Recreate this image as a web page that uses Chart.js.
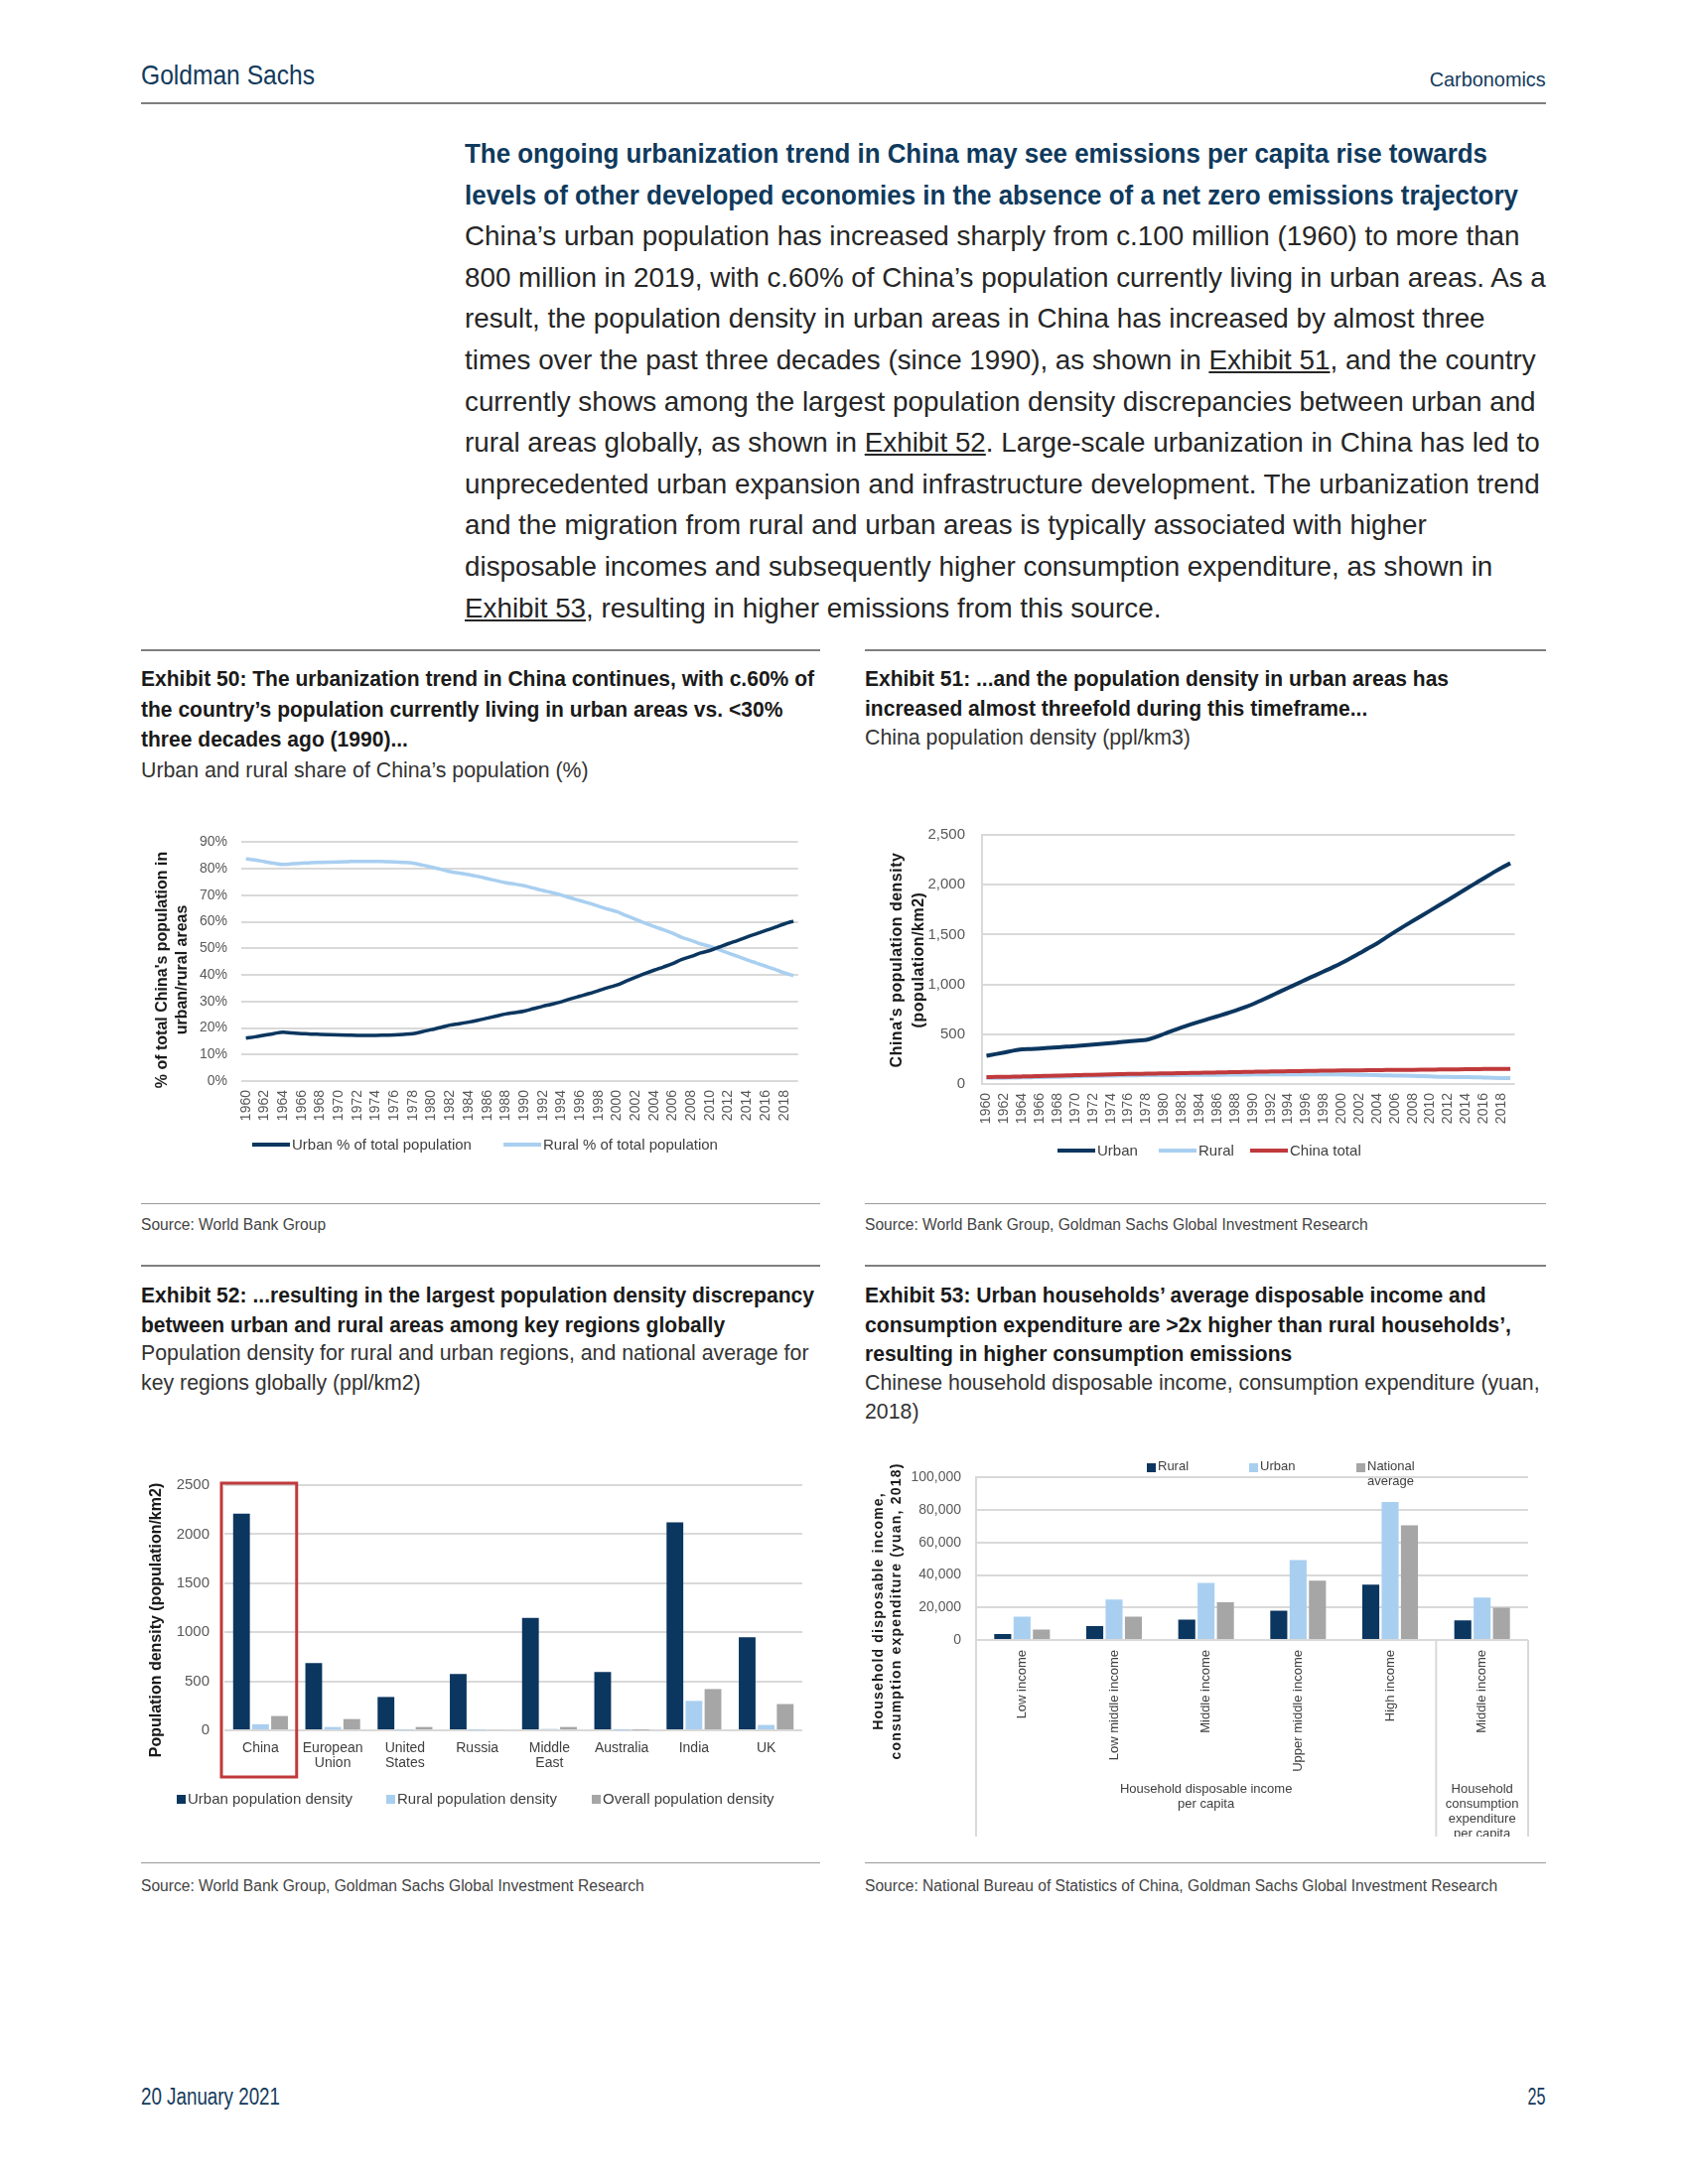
<!DOCTYPE html>
<html>
<head>
<meta charset="utf-8">
<script src="https://cdn.jsdelivr.net/npm/chart.js@4.4.1/dist/chart.umd.min.js"></script>
<style>
  html, body { margin: 0; padding: 0; background: #fff; }
  body { width: 1700px; height: 2200px; position: relative; overflow: hidden;
         font-family: "Liberation Sans", Arial, sans-serif; color: #262626; }
  .abs { position: absolute; white-space: nowrap; }
  .sq { display: inline-block; transform-origin: 0 50%; white-space: nowrap; }
  .sqr { transform-origin: 100% 50%; }
  .rule { position: absolute; height: 2px; background: #7f7f7f; }
  .thin { position: absolute; height: 1px; background: #9a9a9a; }
  .navy { color: #133a5c; }
  .lead { font-weight: bold; color: #0f3a5d; font-size: 28px; }
  .body { font-size: 27.8px; color: #262626; }
  .exh { font-weight: bold; font-size: 22px; color: #1a1a1a; }
  .sub { font-size: 21.3px; color: #333; }
  .src { font-size: 15.6px; color: #444; }
  canvas { position: absolute; }
  .lg { position: absolute; color: #404040; white-space: nowrap; }
  .lg .mk { position: absolute; }
  .lg .tx { position: absolute; white-space: normal; }
</style>
</head>
<body>

<!-- ページ上部のヘッダー -->
<div class="abs navy" style="left:142px; top:58px; font-size:28px; line-height:36px;"><span class="sq" data-w="175" data-g="gs">Goldman Sachs</span></div>
<div class="abs navy" style="right:143px; top:66px; font-size:21px; line-height:28px;"><span class="sq sqr" data-w="117" data-g="cb">Carbonomics</span></div>
<div class="rule" style="left:142px; top:103px; width:1415px;"></div>

<!-- 本文ブロック -->
<div class="abs" style="left:468px; top:134px; line-height:41.6px;">
  <div class="lead"><span class="sq" data-w="1030" data-g="lead">The ongoing urbanization trend in China may see emissions per capita rise towards</span></div>
  <div class="lead"><span class="sq" data-w="1061" data-g="lead">levels of other developed economies in the absence of a net zero emissions trajectory</span></div>
  <div class="body">China’s urban population has increased sharply from c.100 million (1960) to more than</div>
  <div class="body">800 million in 2019, with c.60% of China’s population currently living in urban areas. As a</div>
  <div class="body">result, the population density in urban areas in China has increased by almost three</div>
  <div class="body">times over the past three decades (since 1990), as shown in <u>Exhibit 51</u>, and the country</div>
  <div class="body">currently shows among the largest population density discrepancies between urban and</div>
  <div class="body">rural areas globally, as shown in <u>Exhibit 52</u>. Large-scale urbanization in China has led to</div>
  <div class="body">unprecedented urban expansion and infrastructure development. The urbanization trend</div>
  <div class="body">and the migration from rural and urban areas is typically associated with higher</div>
  <div class="body">disposable incomes and subsequently higher consumption expenditure, as shown in</div>
  <div class="body"><u>Exhibit 53</u>, resulting in higher emissions from this source.</div>
</div>

<!-- Exhibit 50 / 51 の見出し -->
<div class="rule" style="left:142px; top:654px; width:684px;"></div>
<div class="rule" style="left:871px; top:654px; width:686px;"></div>
<div class="abs" style="left:142px; top:669px; line-height:30.5px;">
  <div class="exh"><span class="sq" data-w="678" data-g="exh">Exhibit 50: The urbanization trend in China continues, with c.60% of</span></div>
  <div class="exh"><span class="sq" data-g="exh">the country’s population currently living in urban areas vs. &lt;30%</span></div>
  <div class="exh"><span class="sq" data-g="exh">three decades ago (1990)...</span></div>
  <div class="sub">Urban and rural share of China’s population (%)</div>
</div>
<div class="abs" style="left:871px; top:669px; line-height:30px;">
  <div class="exh"><span class="sq" data-w="588" data-g="exh">Exhibit 51: ...and the population density in urban areas has</span></div>
  <div class="exh"><span class="sq" data-g="exh">increased almost threefold during this timeframe...</span></div>
  <div class="sub" style="line-height:28px;">China population density (ppl/km3)</div>
</div>

<canvas id="c50" width="675" height="344" style="left:150px; top:826px;"></canvas>
<canvas id="c51" width="659" height="361" style="left:888px; top:815px;"></canvas>

<div class="thin" style="left:142px; top:1212px; width:684px;"></div>
<div class="thin" style="left:871px; top:1212px; width:686px;"></div>
<div class="abs src" style="left:142px; top:1224px; line-height:20px;">Source: World Bank Group</div>
<div class="abs src" style="left:871px; top:1224px; line-height:20px;">Source: World Bank Group, Goldman Sachs Global Investment Research</div>

<!-- Exhibit 52 / 53 の見出し -->
<div class="rule" style="left:142px; top:1274px; width:684px;"></div>
<div class="rule" style="left:871px; top:1274px; width:686px;"></div>
<div class="abs" style="left:142px; top:1290px; line-height:29.5px;">
  <div class="exh"><span class="sq" data-w="678" data-g="exh">Exhibit 52: ...resulting in the largest population density discrepancy</span></div>
  <div class="exh"><span class="sq" data-g="exh">between urban and rural areas among key regions globally</span></div>
  <div class="sub">Population density for rural and urban regions, and national average for</div>
  <div class="sub">key regions globally (ppl/km2)</div>
</div>
<div class="abs" style="left:871px; top:1290px; line-height:29.5px;">
  <div class="exh"><span class="sq" data-g="exh">Exhibit 53: Urban households’ average disposable income and</span></div>
  <div class="exh"><span class="sq" data-w="651" data-g="exh">consumption expenditure are &gt;2x higher than rural households’,</span></div>
  <div class="exh"><span class="sq" data-g="exh">resulting in higher consumption emissions</span></div>
  <div class="sub">Chinese household disposable income, consumption expenditure (yuan,</div>
  <div class="sub">2018)</div>
</div>

<canvas id="c52" width="676" height="357" style="left:144px; top:1472px;"></canvas>
<canvas id="c53" width="679" height="385" style="left:872px; top:1465px;"></canvas>
<div id="legends"></div>

<div class="thin" style="left:142px; top:1876px; width:684px;"></div>
<div class="thin" style="left:871px; top:1876px; width:686px;"></div>
<div class="abs src" style="left:142px; top:1890px; line-height:20px;">Source: World Bank Group, Goldman Sachs Global Investment Research</div>
<div class="abs src" style="left:871px; top:1890px; line-height:20px;">Source: National Bureau of Statistics of China, Goldman Sachs Global Investment Research</div>

<!-- フッター -->
<div class="abs navy" style="left:142px; top:2098px; font-size:23px; line-height:28px;"><span class="sq" data-w="140" data-g="ft">20 January 2021</span></div>
<div class="abs navy" style="right:143px; top:2098px; font-size:23px; line-height:28px;"><span class="sq sqr" data-w="18" data-g="pg">25</span></div>

<script>
// 細字体（コンデンス）の代わりに横方向へ圧縮する
const groupScale = {};
document.querySelectorAll('.sq[data-w]').forEach(el => {
  const s = Number(el.dataset.w) / el.getBoundingClientRect().width;
  el.style.transform = 'scaleX(' + s + ')';
  if (!groupScale[el.dataset.g]) groupScale[el.dataset.g] = s;
});
document.querySelectorAll('.sq:not([data-w])').forEach(el => {
  el.style.transform = 'scaleX(' + groupScale[el.dataset.g] + ')';
});

// 年次カテゴリ（1960〜2019）
const years = [1960, 1961, 1962, 1963, 1964, 1965, 1966, 1967, 1968, 1969,
               1970, 1971, 1972, 1973, 1974, 1975, 1976, 1977, 1978, 1979,
               1980, 1981, 1982, 1983, 1984, 1985, 1986, 1987, 1988, 1989,
               1990, 1991, 1992, 1993, 1994, 1995, 1996, 1997, 1998, 1999,
               2000, 2001, 2002, 2003, 2004, 2005, 2006, 2007, 2008, 2009,
               2010, 2011, 2012, 2013, 2014, 2015, 2016, 2017, 2018, 2019];

// Exhibit 50: 都市・農村人口の比率（%）
const shareSeries = ['Urban % of total population', 'Rural % of total population'];
const urbanShare = [16.2, 16.7, 17.3, 17.9, 18.4, 18.1, 17.9, 17.7, 17.6, 17.5,
                    17.4, 17.3, 17.2, 17.2, 17.2, 17.3, 17.4, 17.6, 17.9, 18.6,
                    19.4, 20.2, 21.1, 21.6, 22.2, 22.9, 23.7, 24.5, 25.3, 25.8,
                    26.4, 27.3, 28.2, 29.0, 29.9, 31.0, 32.0, 33.0, 34.1, 35.2,
                    36.2, 37.7, 39.1, 40.5, 41.8, 43.0, 44.3, 45.9, 47.0, 48.3,
                    49.2, 50.5, 51.8, 53.0, 54.3, 55.5, 56.7, 57.9, 59.2, 60.3];
const ruralShare = [83.8, 83.3, 82.7, 82.1, 81.6, 81.9, 82.1, 82.3, 82.4, 82.5,
                    82.6, 82.7, 82.8, 82.8, 82.8, 82.7, 82.6, 82.4, 82.1, 81.4,
                    80.6, 79.8, 78.9, 78.4, 77.8, 77.1, 76.3, 75.5, 74.7, 74.2,
                    73.6, 72.7, 71.8, 71.0, 70.1, 69.0, 68.0, 67.0, 65.9, 64.8,
                    63.8, 62.3, 60.9, 59.5, 58.2, 57.0, 55.7, 54.1, 53.0, 51.7,
                    50.8, 49.5, 48.2, 47.0, 45.7, 44.5, 43.3, 42.1, 40.8, 39.7];

// Exhibit 51: 人口密度
const densitySeries = ['Urban', 'Rural', 'China total'];
const urbanDensity = [284, 300, 317, 335, 348, 352, 357, 363, 369, 375,
                      381, 388, 395, 403, 411, 420, 429, 436, 443, 470,
                      503, 537, 569, 598, 626, 653, 680, 707, 736, 768,
                      802, 842, 883, 925, 966, 1007, 1049, 1090, 1131, 1172,
                      1215, 1263, 1312, 1361, 1412, 1470, 1527, 1582, 1636, 1689,
                      1742, 1795, 1848, 1902, 1957, 2011, 2065, 2118, 2170, 2215];
const ruralDensity = [62, 62, 63, 65, 66, 68, 70, 71, 73, 75,
                      77, 79, 81, 83, 84, 86, 87, 88, 89, 89,
                      90, 90, 91, 91, 92, 92, 93, 94, 95, 95,
                      96, 96, 97, 97, 97, 98, 98, 98, 98, 97,
                      97, 95, 93, 91, 89, 87, 85, 84, 82, 79,
                      76, 73, 71, 70, 69, 68, 65, 62, 60, 59];
const totalDensity = [70, 71, 72, 74, 76, 78, 80, 82, 84, 86,
                      89, 91, 93, 95, 97, 99, 101, 102, 104, 105,
                      107, 108, 110, 111, 113, 114, 116, 118, 120, 121,
                      123, 125, 126, 127, 129, 130, 131, 133, 134, 135,
                      136, 137, 138, 139, 140, 141, 142, 142, 143, 144,
                      145, 146, 147, 148, 149, 150, 151, 152, 152, 153];

// Exhibit 52: 地域別の人口密度
const regions = ['China', ['European', 'Union'], ['United', 'States'], 'Russia',
                 ['Middle', 'East'], 'Australia', 'India', 'UK'];
const regionSeries = ['Urban population density', 'Rural population density', 'Overall population density'];
const regionUrban = [2210, 685, 340, 575, 1145, 595, 2120, 950];
const regionRural = [62, 34, 4, 3, 14, 1, 300, 55];
const regionOverall = [146, 115, 34, 9, 34, 3, 421, 268];

// Exhibit 53: 家計の可処分所得・消費支出（元, 2018）
const incomeCats = ['Low income', 'Low middle income', 'Middle income',
                    'Upper middle income', 'High income', 'Middle income'];
const incomeGroups = [
  { label: ['Household disposable income', 'per capita'], from: 0, to: 4 },
  { label: ['Household', 'consumption', 'expenditure', 'per capita'], from: 5, to: 5 }
];
const incomeSeries = ['Rural', 'Urban', 'National average'];
const incomeRural = [3666, 8508, 12530, 18052, 34043, 12124];
const incomeUrban = [14387, 24857, 35196, 49174, 84907, 26112];
const incomeNational = [6440, 14361, 23189, 36471, 70640, 19853];

const NAVY = '#0b365f';
const LIGHT = '#a9cff0';
const GREY = '#a6a6a6';
const RED = '#c0393b';
const GRID = '#d9d9d9';
const TICK = '#595959';
const FONT = '"Liberation Sans", Arial, sans-serif';

Chart.defaults.font.family = FONT;
Chart.defaults.color = TICK;

const fixW = w => s => { s.width = w; };
const fixH = h => s => { s.height = h; };

// 縦軸タイトルを任意の位置に描く（Excel風に中心をずらすため）
const sideTitle = {
  id: 'sideTitle',
  afterDraw(chart, args, opts) {
    const ctx = chart.ctx;
    ctx.save();
    ctx.fillStyle = '#1a1a1a';
    ctx.font = 'bold ' + opts.size + 'px ' + FONT;
    if ('letterSpacing' in ctx) ctx.letterSpacing = (opts.spacing || 0) + 'px';
    ctx.textAlign = 'center';
    ctx.textBaseline = 'middle';
    opts.text.forEach((line, i) => {
      ctx.save();
      ctx.translate(opts.x + i * opts.lineHeight, opts.cy);
      ctx.rotate(-Math.PI / 2);
      ctx.fillText(line, 0, 0);
      ctx.restore();
    });
    ctx.restore();
  }
};

// 折れ線の共通オプション
function lineSet(label, data, color, width, order) {
  return { label, data, borderColor: color, backgroundColor: color, borderWidth: width, order,
           pointRadius: 0, cubicInterpolationMode: 'monotone', fill: false };
}

const yearTicks = { autoSkip: false, minRotation: 90, maxRotation: 90, padding: 9, font: { size: 14 },
                    callback: (v, i) => (years[i] % 2 === 0 ? String(years[i]) : '') };

// Exhibit 50
new Chart(document.getElementById('c50'), {
  type: 'line',
  data: {
    labels: years,
    datasets: [
      lineSet(shareSeries[0], urbanShare, NAVY, 3.5, 0),
      lineSet(shareSeries[1], ruralShare, LIGHT, 3.5, 1)
    ]
  },
  options: {
    responsive: false, animation: false,
    layout: { padding: { top: 16, right: 17, bottom: 0, left: 0 } },
    plugins: {
      tooltip: { enabled: false }, legend: { display: false },
      sideTitle: { text: ['% of total China\'s population in', 'urban/rural areas'], size: 16, lineHeight: 20, x: 14, cy: 151 }
    },
    scales: {
      x: { offset: true, afterFit: fixH(81), grid: { display: false, drawTicks: false }, border: { display: false }, ticks: yearTicks },
      y: {
        min: 0, max: 90, afterFit: fixW(93),
        grid: { color: GRID, lineWidth: 2, drawTicks: false }, border: { display: false },
        ticks: { stepSize: 10, padding: 14, font: { size: 14 }, callback: v => v + '%' }
      }
    }
  },
  plugins: [sideTitle]
});

// Exhibit 51
new Chart(document.getElementById('c51'), {
  type: 'line',
  data: {
    labels: years,
    datasets: [
      lineSet(densitySeries[0], urbanDensity, NAVY, 4, 0),
      lineSet(densitySeries[1], ruralDensity, LIGHT, 4, 2),
      lineSet(densitySeries[2], totalDensity, RED, 4, 1)
    ]
  },
  options: {
    responsive: false, animation: false,
    layout: { padding: { top: 12, right: 12, bottom: 0, left: 0 } },
    plugins: {
      tooltip: { enabled: false }, legend: { display: false },
      sideTitle: { text: ['China\'s population density', '(population/km2)'], size: 16, spacing: 0.5, lineHeight: 22, x: 16, cy: 152 }
    },
    scales: {
      x: { offset: true, afterFit: fixH(84), grid: { display: false, drawTicks: false }, border: { display: false }, ticks: yearTicks },
      y: {
        min: 0, max: 2500, afterFit: fixW(101),
        grid: { color: GRID, lineWidth: 2, drawTicks: false },
        border: { display: true, color: GRID, width: 2 },
        ticks: { stepSize: 500, padding: 17, font: { size: 15 }, callback: v => v.toLocaleString('en-US') }
      }
    }
  },
  plugins: [sideTitle]
});

// 中国の枠を赤で囲むプラグイン
const chinaBox = {
  id: 'chinaBox',
  afterDraw(chart) {
    const { ctx, chartArea, scales: { x, y } } = chart;
    const half = (x.getPixelForValue(1) - x.getPixelForValue(0)) / 2;
    const cx = x.getPixelForValue(0);
    const top = y.getPixelForValue(2500) - 2;
    ctx.save();
    ctx.strokeStyle = RED;
    ctx.lineWidth = 3;
    ctx.strokeRect(cx - half - 3, top, half * 2 + 3, chartArea.bottom + 47 - top);
    ctx.restore();
  }
};

// Exhibit 52
new Chart(document.getElementById('c52'), {
  type: 'bar',
  data: {
    labels: regions,
    datasets: [
      { label: regionSeries[0], data: regionUrban, backgroundColor: NAVY },
      { label: regionSeries[1], data: regionRural, backgroundColor: LIGHT },
      { label: regionSeries[2], data: regionOverall, backgroundColor: GREY }
    ]
  },
  options: {
    responsive: false, animation: false,
    datasets: { bar: { categoryPercentage: 0.79, barPercentage: 0.88 } },
    layout: { padding: { top: 16, right: 12, bottom: 0, left: 0 } },
    plugins: {
      tooltip: { enabled: false }, legend: { display: false },
      sideTitle: { text: ['Population density (population/km2)'], size: 16, lineHeight: 20, x: 14, cy: 160 }
    },
    scales: {
      x: {
        afterFit: fixH(86),
        grid: { display: false, drawTicks: false }, border: { display: false },
        ticks: { autoSkip: false, maxRotation: 0, padding: 10, color: '#404040', font: { size: 14, lineHeight: 1.1 } }
      },
      y: {
        min: 0, max: 2500, afterFit: fixW(82),
        grid: { color: GRID, lineWidth: 2, drawTicks: false }, border: { display: false },
        ticks: { stepSize: 500, padding: 15, font: { size: 15 }, callback: v => String(v) }
      }
    }
  },
  plugins: [chinaBox, sideTitle]
});

// 2段カテゴリ軸（グループ名と区切り線）を描くプラグイン
const groupAxis = {
  id: 'groupAxis',
  afterDraw(chart) {
    const { ctx, chartArea, scales: { x } } = chart;
    const step = x.getPixelForValue(1) - x.getPixelForValue(0);
    const bottom = chart.height;
    ctx.save();
    ctx.strokeStyle = GRID;
    ctx.lineWidth = 2;
    ctx.beginPath();
    ctx.moveTo(x.left, chartArea.bottom); ctx.lineTo(x.left, bottom);
    incomeGroups.slice(1).forEach(g => {
      const gx = x.getPixelForValue(g.from) - step / 2;
      ctx.moveTo(gx, chartArea.bottom); ctx.lineTo(gx, bottom);
    });
    ctx.moveTo(x.right, chartArea.bottom); ctx.lineTo(x.right, bottom);
    ctx.stroke();
    ctx.fillStyle = '#404040';
    ctx.font = '13px ' + FONT;
    ctx.textAlign = 'center';
    ctx.textBaseline = 'middle';
    incomeGroups.forEach(g => {
      const cx = (x.getPixelForValue(g.from) + x.getPixelForValue(g.to)) / 2;
      g.label.forEach((line, i) => ctx.fillText(line, cx, chartArea.bottom + 150 + i * 15.3));
    });
    ctx.restore();
  }
};

// Exhibit 53
const colors53 = [NAVY, LIGHT, GREY];
new Chart(document.getElementById('c53'), {
  type: 'bar',
  data: {
    labels: incomeCats,
    datasets: [
      { label: incomeSeries[0], data: incomeRural, backgroundColor: colors53[0] },
      { label: incomeSeries[1], data: incomeUrban, backgroundColor: colors53[1] },
      { label: incomeSeries[2], data: incomeNational, backgroundColor: colors53[2] }
    ]
  },
  options: {
    responsive: false, animation: false,
    datasets: { bar: { categoryPercentage: 0.63, barPercentage: 0.88 } },
    layout: { padding: { top: 16, right: 12, bottom: 0, left: 0 } },
    plugins: {
      tooltip: { enabled: false }, legend: { display: false },
      sideTitle: { text: ['Household disposable income,', 'consumption expenditure (yuan, 2018)'],
                   size: 14, spacing: 1.2, lineHeight: 18, x: 13.5, cy: 158 }
    },
    scales: {
      x: {
        afterFit: fixH(198),
        grid: { display: false, drawTicks: false }, border: { display: false },
        ticks: { autoSkip: false, minRotation: 90, maxRotation: 90, padding: 10, color: '#404040', font: { size: 13 } }
      },
      y: {
        min: 0, max: 100000, afterFit: fixW(111),
        grid: { color: GRID, lineWidth: 2, drawTicks: false },
        border: { display: true, color: GRID, width: 2 },
        ticks: { stepSize: 20000, padding: 15, font: { size: 14 }, callback: v => v.toLocaleString('en-US') }
      }
    }
  },
  plugins: [groupAxis, sideTitle]
});

// 凡例（HTMLで配置）
const legendRoot = document.getElementById('legends');
function addLegend(names, colors, lefts, cy, kind, size, textWidth) {
  names.forEach((name, i) => {
    const item = document.createElement('div');
    item.className = 'lg';
    item.style.left = lefts[i] + 'px';
    item.style.top = (cy - 10) + 'px';
    item.style.fontSize = size + 'px';
    const mk = kind === 'line'
      ? '<span class="mk" style="left:0; top:8px; width:38px; height:4px; background:' + colors[i] + '"></span>'
      : '<span class="mk" style="left:0; top:6px; width:9px; height:9px; background:' + colors[i] + '"></span>';
    const tx = '<span class="tx" style="left:' + (kind === 'line' ? 40 : 11) + 'px; top:' + (10 - size * 0.58) +
               'px; line-height:' + (size * 1.15) + 'px; width:' + textWidth + 'px">' + name + '</span>';
    item.innerHTML = mk + tx;
    legendRoot.appendChild(item);
  });
}
addLegend(shareSeries, [NAVY, LIGHT], [254, 507], 1153, 'line', 15, 260);
addLegend(densitySeries, [NAVY, LIGHT, RED], [1065, 1167, 1259], 1159, 'line', 15, 120);
addLegend(regionSeries, colors53, [178, 389, 596], 1812, 'box', 15, 220);
addLegend(incomeSeries, colors53, [1155, 1258, 1366], 1478, 'box', 13, 60);
</script>
</body>
</html>
